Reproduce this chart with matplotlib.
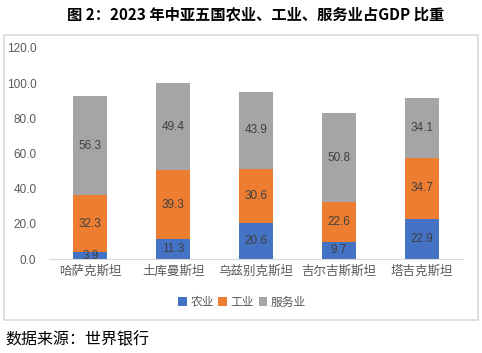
import numpy as np
import matplotlib.pyplot as plt
from matplotlib.patches import Rectangle

plt.rcParams['font.family'] = ['Noto Sans CJK SC', 'DejaVu Sans']

countries = ['哈萨克斯坦', '土库曼斯坦', '乌兹别克斯坦', '吉尔吉斯斯坦', '塔吉克斯坦']
agri = [3.9, 11.3, 20.6, 9.7, 22.9]
indu = [32.3, 39.3, 30.6, 22.6, 34.7]
serv = [56.3, 49.4, 43.9, 50.8, 34.1]
series_names = ['农业', '工业', '服务业']
colors = ['#4472C4', '#ED7D31', '#A5A5A5']

W, H = 482, 353
fig = plt.figure(figsize=(W / 100, H / 100), dpi=100)

# outer chart frame
fig.patches.append(Rectangle((4 / W, 33 / H), 474 / W, 285 / H, transform=fig.transFigure,
                             fill=False, edgecolor='#D9D9D9', linewidth=1.2))

ax = fig.add_axes([49 / W, 94 / H, (463 - 49) / W, (259 - 48) / H])

x = np.arange(len(countries))
bottom = np.zeros(len(countries))
for vals, name, c in zip([agri, indu, serv], series_names, colors):
    vals = np.array(vals)
    ax.bar(x, vals, 0.41, bottom=bottom, color=c, label=name)
    for xi, b, v in zip(x, bottom, vals):
        ax.text(xi, b + v / 2, f'{v:.1f}', ha='center', va='center',
                fontsize=8.5, color='#404040', family='Liberation Sans')
    bottom += vals

ax.set_xlim(-0.5, len(countries) - 0.5)
ax.set_ylim(0, 120)
ax.set_yticks(np.arange(0, 121, 20))
ax.set_yticklabels([f'{v:.1f}' for v in np.arange(0, 121, 20)], family='Liberation Sans')
ax.set_xticks(x)
ax.set_xticklabels(countries)
ax.tick_params(axis='y', length=0, labelsize=8.5, labelcolor='#595959', pad=9)
ax.tick_params(axis='x', length=0, labelsize=9, labelcolor='#595959', pad=4)
for s in ['top', 'right', 'left']:
    ax.spines[s].set_visible(False)
ax.spines['bottom'].set_color('#D9D9D9')

ax.legend(loc='center', bbox_to_anchor=(242 / W, 1 - 302 / H), bbox_transform=fig.transFigure,
          ncol=3, frameon=False, fontsize=8.5, handlelength=0.7, handleheight=0.7,
          handletextpad=0.3, columnspacing=0.4, labelcolor='#595959')

fig.text(256 / W, 1 - 14 / H, '图 2：2023 年中亚五国农业、工业、服务业占GDP 比重',
         ha='center', va='center', fontsize=11, fontweight='bold', color='#000000')
fig.text(5 / W, 1 - 340 / H, '数据来源：世界银行', ha='left', va='center',
         fontsize=11.5, color='#000000')

fig.savefig('out.png', dpi=100)
